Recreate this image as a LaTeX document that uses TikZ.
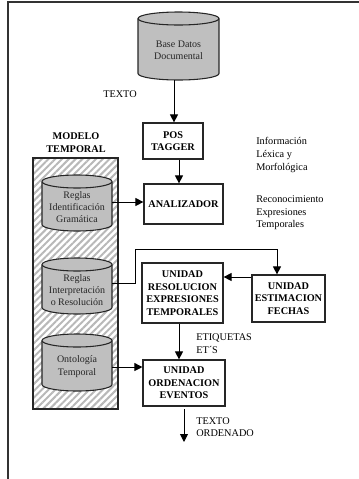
\documentclass[tikz,border=0pt]{standalone}
\usepackage{fontspec}
\setmainfont{Liberation Serif}
\usetikzlibrary{arrows.meta,patterns.meta,calc}

\tikzset{
  frameline/.style={draw=black!80, line width=1.1pt},
  procbox/.style={draw=black!85, line width=0.9pt, fill=white, inner sep=0pt,
    align=center, font=\fontsize{7.7pt}{9.5pt}\selectfont\bfseries},
  note/.style={inner sep=0pt, align=left, font=\fontsize{7.7pt}{9.4pt}\selectfont},
  cylfill/.style={fill=black!25},
  cylline/.style={draw=black!85, line width=0.8pt},
  cyltext/.style={inner sep=0pt, align=center, text=black!85,
    font=\fontsize{7.5pt}{9.3pt}\selectfont},
  hatchbox/.style={draw=black!85, line width=0.9pt, inner sep=0pt,
    pattern={Lines[angle=45,distance=3.6pt,line width=1.5pt]}, pattern color=black!28},
  flow/.style={draw=black, line width=0.7pt, -{Triangle[length=6pt,width=6pt]}},
}

% database cylinder: name, centre x, centre y, width, height, text (pixel units)
\newcommand\dbcyl[6]{%
  \fill[cylfill] ({#2-#4/2},{#3-#5/2+6.5}) rectangle ({#2+#4/2},{#3+#5/2-6.5});
  \fill[cylfill] (#2,{#3+#5/2-6.5}) ellipse [x radius={#4/2}, y radius=6.5];
  \draw[cylline] ({#2-#4/2},{#3-#5/2+6.5}) -- ({#2-#4/2},{#3+#5/2-6.5})
    arc[start angle=180, delta angle=-180, x radius={#4/2}, y radius=6.5]
    -- ({#2+#4/2},{#3-#5/2+6.5});
  \filldraw[cylfill,cylline] (#2,{#3-#5/2+6.5}) ellipse [x radius={#4/2}, y radius=6.5];
  \node[inner sep=0pt, minimum width={#4*0.75pt}, minimum height={#5*0.75pt}] (#1) at (#2,#3) {};
  \node[cyltext] (#1-t) at (#2,{#3+4}) {#6};
}

\begin{document}
\begin{tikzpicture}[x=0.75pt,y=-0.75pt]
\useasboundingbox (0,0) rectangle (359,479);

% page frame
\draw[frameline] (359,2) -- (8,2) -- (8,479);

% temporal model container
\node[hatchbox, minimum width=63.75pt, minimum height=188.25pt] (modelo) at (75.5,283.5) {};
\node[procbox, draw=none, fill=none] (modelo-t) at (76,142.5) {MODELO\\TEMPORAL};

% knowledge bases
\dbcyl{db}{178.5}{46}{81}{68}{Base Datos\\Documental}
\dbcyl{gram}{77}{203}{70}{56}{Reglas\\Identificación\\Gramática}
\dbcyl{interp}{77}{286}{70}{56}{Reglas\\Interpretación\\o Resolución}
\dbcyl{onto}{77}{362.5}{70}{57}{Ontología\\Temporal}

% processing units
\node[procbox, minimum width=45pt, minimum height=27pt] (pos) at (173,141) {POS\\TAGGER};
\node[procbox, minimum width=59.25pt, minimum height=30pt] (ana) at (183.5,204) {ANALIZADOR};
\node[procbox, minimum width=60.75pt, minimum height=45pt] (res) at (182.5,293) {UNIDAD\\RESOLUCION\\EXPRESIONES\\TEMPORALES};
\node[procbox, minimum width=54.75pt, minimum height=35.25pt] (est) at (288.5,298.5) {UNIDAD\\ESTIMACION\\FECHAS};
\node[procbox, minimum width=61.5pt, minimum height=34.5pt] (ord) at (184,383) {UNIDAD\\ORDENACION\\EVENTOS};

% annotations
\node[note] (l-texto) at (120,94) {TEXTO};
\node[note, anchor=west] (l-info) at (256,155) {Información\\Léxica y\\Morfológica};
\node[note, anchor=west] (l-recon) at (256,213) {Reconocimiento\\Expresiones\\Temporales};
\node[note, anchor=west] (l-etiq) at (196,343.5) {ETIQUETAS\\ET´S};
\node[note, anchor=west] (l-orden) at (196,427) {TEXTO\\ORDENADO};

% routing points
\coordinate (colA) at (179,0);
\coordinate (colB) at (174,0);
\coordinate (jog) at (135,249);
\coordinate (estIn) at (277,0);
\coordinate (estOut) at (0,277);
\coordinate (outTop) at (184,409);
\coordinate (outEnd) at (184,442);

% connectors
\draw[flow] (db.south -| colB) -- (pos.north -| colB);
\draw[flow] (pos.south -| colA) -- (ana.north -| colA);
\draw[flow] ([yshift=0.75pt]gram.east) -- ([yshift=0.75pt]gram.east -| ana.west);
\draw[flow] ([yshift=2.25pt]interp.east) -- ([yshift=2.25pt]interp.east -| jog) -- (jog)
  -- (jog -| estIn) -- (est.north -| estIn);
\draw[flow] (est.west |- estOut) -- (res.east |- estOut);
\draw[flow] (res.south -| colA) -- (ord.north -| colA);
\draw[flow] ([yshift=-3.4pt]onto.east) -- ([yshift=-3.4pt]onto.east -| ord.west);
\draw[flow] (outTop) -- (outEnd);
\end{tikzpicture}
\end{document}
